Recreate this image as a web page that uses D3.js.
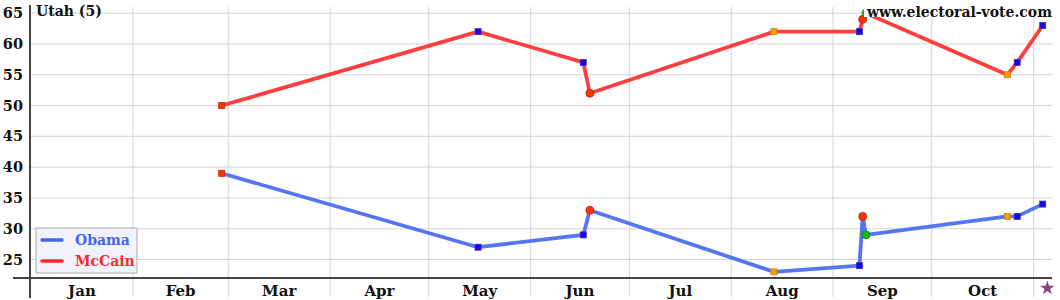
<!DOCTYPE html>
<html><head><meta charset="utf-8">
<script src="https://cdn.jsdelivr.net/npm/d3@7"></script>
<style>body{margin:0;background:#fff}svg{display:block;font-family:"DejaVu Serif",serif;font-weight:bold}</style>
</head><body>
<svg id="c" width="1060" height="300"></svg>
<script>
const pollDates = ["2008-02-28","2008-05-16","2008-06-17","2008-06-19","2008-08-14","2008-09-09","2008-09-10","2008-09-11","2008-10-24","2008-10-27","2008-11-03T18:00"];
const obama  = [39, 27, 29, 33, 23, 24, 32, 29, 32, 32, 34];
const mccain = [50, 62, 57, 52, 62, 62, 64, 65, 55, 57, 63];
const markerType = ["redsq","bluesq","bluesq","redcirc","orangesq","bluesq","redcirc","greencirc","orangesq","bluesq","bluesq"];
const yTicks = [25, 30, 35, 40, 45, 50, 55, 60, 65];
const monthLabels = ["Jan","Feb","Mar","Apr","May","Jun","Jul","Aug","Sep","Oct"];
const electionDay = "2008-11-05T04:00";
const title = "Utah (5)";
const watermark = "www.electoral-vote.com";

const svg = d3.select("#c");
const parse = s => new Date(s);
const x = d3.scaleTime().domain([parse("2008-01-01"), parse("2008-11-06T14:00")]).range([31, 1052]);
const y = d3.scaleLinear().domain([22, 66]).range([278, 7]);

// grid
const monthStarts = d3.range(1, 11).map(m => new Date(2008, m, 1));
svg.append("g").selectAll("line").data(monthStarts).join("line")
  .attr("x1", d => x(d)).attr("x2", d => x(d)).attr("y1", 7).attr("y2", 297)
  .attr("stroke", "#d4d4d4").attr("stroke-width", 1);
svg.append("g").selectAll("line").data(yTicks).join("line")
  .attr("x1", 30).attr("x2", 1052).attr("y1", d => y(d)).attr("y2", d => y(d))
  .attr("stroke", "#d4d4d4").attr("stroke-width", 1);

// axes
svg.append("line").attr("x1", 30).attr("x2", 30).attr("y1", 5).attr("y2", 298).attr("stroke", "#444").attr("stroke-width", 2);
svg.append("line").attr("x1", 13).attr("x2", 1052).attr("y1", 278).attr("y2", 278).attr("stroke", "#444").attr("stroke-width", 2);

svg.append("g").selectAll("text").data(yTicks).join("text")
  .attr("x", 23).attr("y", d => y(d) + 5).attr("text-anchor", "end")
  .attr("font-size", 14.5).attr("fill", "#111").text(d => d);

svg.append("g").selectAll("text").data(monthLabels).join("text")
  .attr("x", (d, i) => (x(new Date(2008, i, 1)) + x(new Date(2008, i + 1, 1))) / 2)
  .attr("y", 296).attr("text-anchor", "middle").attr("font-size", 15).attr("fill", "#111").text(d => d);

// lines
const pts = s => pollDates.map((d, i) => [x(parse(d)), y(s[i])]);
const line = d3.line();
svg.append("path").attr("d", line(pts(obama))).attr("fill", "none").attr("stroke", "#4466ee").attr("stroke-opacity", 0.9).attr("stroke-width", 3.8).attr("stroke-linejoin", "round");
svg.append("path").attr("d", line(pts(mccain))).attr("fill", "none").attr("stroke", "#ff2a2a").attr("stroke-opacity", 0.9).attr("stroke-width", 3.8).attr("stroke-linejoin", "round");

// markers
const styles = {
  redsq: {shape: "sq", fill: "#ff3300", stroke: "#cc2200"},
  bluesq: {shape: "sq", fill: "#2200ee", stroke: "#3333aa"},
  orangesq: {shape: "sq", fill: "#f5a000", stroke: "#c88020"},
  redcirc: {shape: "c", fill: "#ff3300", stroke: "#bb2200"},
  greencirc: {shape: "c", fill: "#11bb11", stroke: "#118811"}
};
function drawMarkers(series) {
  const g = svg.append("g");
  pollDates.forEach((d, i) => {
    const st = styles[markerType[i]];
    const cx = x(parse(d)), cy = y(series[i]);
    if (st.shape === "sq") {
      g.append("rect").attr("x", cx - 3).attr("y", cy - 3).attr("width", 6).attr("height", 6)
        .attr("fill", st.fill).attr("stroke", st.stroke).attr("stroke-width", 0.8);
    } else {
      g.append("circle").attr("cx", cx).attr("cy", cy).attr("r", 4)
        .attr("fill", st.fill).attr("stroke", st.stroke).attr("stroke-width", 0.8);
    }
  });
}
drawMarkers(obama);
drawMarkers(mccain);

// election day star
const star = d3.symbol().type(d3.symbolStar).size(65);
svg.append("path").attr("d", star()).attr("transform", `translate(${x(parse(electionDay))},288)`).attr("fill", "#884488");

// title & watermark
svg.append("text").attr("x", 36).attr("y", 16).attr("font-size", 14).attr("fill", "#111").text(title);
svg.append("rect").attr("x", 864).attr("y", 2).attr("width", 190).attr("height", 15).attr("fill", "#fff");
svg.append("text").attr("x", 1052).attr("y", 17).attr("text-anchor", "end").attr("font-size", 14)
  .attr("fill", "#111").text(watermark);

// legend
const lg = svg.append("g");
lg.append("rect").attr("x", 36).attr("y", 228).attr("width", 101).attr("height", 45)
  .attr("fill", "#f2f2ff").attr("stroke", "#aaa").attr("stroke-width", 1);
const legendItems = [{name: "Obama", color: "#4466ee"}, {name: "McCain", color: "#ff2a2a"}];
legendItems.forEach((d, i) => {
  const yy = 240 + i * 21;
  lg.append("line").attr("x1", 42).attr("x2", 62).attr("y1", yy).attr("y2", yy).attr("stroke", d.color).attr("stroke-width", 3.5).attr("stroke-linecap", "round");
  lg.append("text").attr("x", 75).attr("y", yy + 5).attr("font-size", 14).attr("fill", d.color).text(d.name);
});
</script>
</body></html>
